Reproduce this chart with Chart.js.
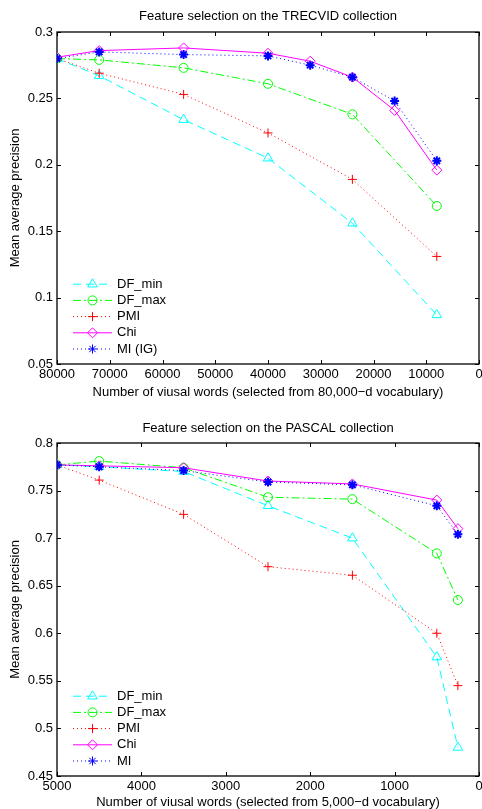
<!DOCTYPE html>
<html>
<head>
<meta charset="utf-8">
<script src="https://cdn.jsdelivr.net/npm/chart.js@4.4.1/dist/chart.umd.min.js"></script>
<style>
  html, body { margin: 0; padding: 0; background: #fff; overflow: hidden; }
  #wrap { position: relative; width: 482px; height: 809px; }
  canvas { position: absolute; left: 0; }
  #top { top: 0; }
  #bottom { top: 405px; }
</style>
</head>
<body>
<div id="wrap">
  <canvas id="top" width="482" height="405"></canvas>
  <canvas id="bottom" width="482" height="404"></canvas>
</div>
<script>
// TRECVID (80,000-d vocabulary)
const trecvidWords = [80000, 72000, 56000, 40000, 32000, 24000, 16000, 8000];
const trecvidDFmin = [0.280, 0.267, 0.234, 0.205, null, 0.156, null, 0.087];
const trecvidDFmax = [0.280, 0.279, 0.273, 0.261, null, 0.238, null, 0.169];
const trecvidPMI   = [0.280, 0.269, 0.253, 0.224, null, 0.189, null, 0.131];
const trecvidChi   = [0.281, 0.286, 0.288, 0.284, 0.278, 0.266, 0.241, 0.196];
const trecvidMI    = [0.280, 0.285, 0.283, 0.282, 0.275, 0.266, 0.248, 0.203];

// PASCAL (5,000-d vocabulary)
const pascalWords = [5000, 4500, 3500, 2500, 1500, 500, 250];
const pascalDFmin = [0.777, 0.775, 0.770, 0.734, 0.700, 0.575, 0.480];
const pascalDFmax = [0.777, 0.781, 0.774, 0.743, 0.741, 0.684, 0.635];
const pascalPMI   = [0.777, 0.761, 0.725, 0.670, 0.661, 0.600, 0.545];
const pascalChi   = [0.777, 0.776, 0.774, 0.760, 0.757, 0.740, 0.710];
const pascalMI    = [0.777, 0.775, 0.771, 0.759, 0.756, 0.734, 0.704];

const FONT = '"Liberation Sans", Arial, Helvetica, sans-serif';
Chart.defaults.font.family = FONT;
Chart.defaults.color = '#000';

function pts(xs, ys) {
  return xs.map((x, i) => ({ x: x, y: ys[i] }));
}

// one entry per series: look of the line and marker
function seriesStyles(labels) {
  return [
    { label: labels[0], borderColor: '#00ffff', borderDash: [8, 5], pointStyle: 'triangle', pointRadius: 5.5, order: 5 },
    { label: labels[1], borderColor: '#00ff00', borderDash: [8, 3, 2, 3], pointStyle: 'circle', pointRadius: 4.5, order: 4 },
    { label: labels[2], borderColor: '#ff0000', borderDash: [1, 3], pointStyle: 'cross', pointRadius: 4.5, order: 3 },
    { label: labels[3], borderColor: '#ff00ff', borderDash: [], pointStyle: 'rectRot', pointRadius: 5, order: 2 },
    { label: labels[4], borderColor: '#0000ff', borderDash: [1, 3], pointStyle: 'star', pointRadius: 4.5, order: 1 }
  ];
}

// box round the plot with small inward ticks on all four sides
const frame = {
  id: 'frame',
  beforeDatasetsDraw(chart) {
    const { ctx, chartArea: a, scales } = chart;
    ctx.save();
    ctx.strokeStyle = '#000';
    ctx.lineWidth = 1.3;
    ctx.strokeRect(a.left, a.top, a.right - a.left, a.bottom - a.top);
    ctx.lineWidth = 1;
    ctx.beginPath();
    scales.x.ticks.forEach(t => {
      const px = Math.round(scales.x.getPixelForValue(t.value)) + 0.5;
      ctx.moveTo(px, a.bottom); ctx.lineTo(px, a.bottom - 4);
      ctx.moveTo(px, a.top); ctx.lineTo(px, a.top + 4);
    });
    scales.y.ticks.forEach(t => {
      const py = Math.round(scales.y.getPixelForValue(t.value)) + 0.5;
      ctx.moveTo(a.left, py); ctx.lineTo(a.left + 4, py);
      ctx.moveTo(a.right, py); ctx.lineTo(a.right - 4, py);
    });
    ctx.stroke();
    ctx.restore();
  }
};

// matlab style legend inside the lower left corner, no box
const insideLegend = {
  id: 'insideLegend',
  afterDatasetsDraw(chart) {
    const { ctx, chartArea: a } = chart;
    const sets = chart.data.datasets;
    const x0 = a.left + 16, x1 = x0 + 39;
    const rowH = 16.2;
    const yLast = a.bottom - 15;
    ctx.save();
    ctx.font = '13px ' + FONT;
    ctx.textBaseline = 'middle';
    sets.forEach((ds, i) => {
      const y = yLast - (sets.length - 1 - i) * rowH;
      ctx.strokeStyle = ds.borderColor;
      ctx.lineWidth = 1;
      ctx.setLineDash(ds.borderDash);
      ctx.beginPath();
      ctx.moveTo(x0, y); ctx.lineTo(x1, y);
      ctx.stroke();
      ctx.setLineDash([]);
      ctx.fillStyle = 'rgba(0,0,0,0)';
      Chart.helpers.drawPoint(ctx, {
        pointStyle: ds.pointStyle, radius: ds.pointRadius,
        borderWidth: ds.pointBorderWidth, rotation: 0
      }, (x0 + x1) / 2, y);
      ctx.fillStyle = '#000';
      ctx.fillText(ds.label, x1 + 5, y);
    });
    ctx.restore();
  }
};

function makeChart(id, title, xLabel, words, values, labels, xMax, xStep, yMin, yMax, titlePad, xTitleBottom, xHeight) {
  const styles = seriesStyles(labels);
  const datasets = styles.map((s, i) => ({
    label: s.label,
    data: pts(words, values[i]),
    borderColor: s.borderColor,
    borderWidth: 1,
    borderDash: s.borderDash,
    pointStyle: s.pointStyle,
    pointRadius: s.pointRadius,
    pointBorderColor: s.borderColor,
    pointBackgroundColor: 'rgba(0,0,0,0)',
    pointBorderWidth: s.pointStyle === 'star' ? 2 : 1,
    spanGaps: true,
    tension: 0,
    order: s.order
  }));

  return new Chart(document.getElementById(id), {
    type: 'line',
    data: { datasets: datasets },
    options: {
      responsive: false,
      animation: false,
      events: [],
      layout: { autoPadding: false, padding: { left: 0, right: 3, top: 0, bottom: 0 } },
      plugins: {
        legend: { display: false },
        tooltip: { enabled: false },
        title: {
          display: true,
          fullSize: false,
          text: title,
          color: '#000',
          font: { size: 13, weight: 'normal', lineHeight: 1 },
          padding: titlePad
        }
      },
      scales: {
        x: {
          type: 'linear',
          reverse: true,
          min: 0,
          max: xMax,
          grid: { display: false, drawTicks: false },
          border: { display: false },
          ticks: {
            stepSize: xStep,
            autoSkip: false,
            maxRotation: 0,
            padding: 3,
            font: { size: 13 },
            callback: v => String(v)
          },
          title: {
            display: true,
            text: xLabel,
            font: { size: 13, lineHeight: 1 },
            padding: { top: 0, bottom: xTitleBottom }
          },
          afterFit: s => {
            s.height = xHeight;
            s.paddingLeft = 0;
            s.paddingRight = 0;
          }
        },
        y: {
          min: yMin,
          max: yMax,
          grid: { display: false, drawTicks: false },
          border: { display: false },
          ticks: {
            stepSize: 0.05,
            padding: 4,
            font: { size: 13 },
            callback: v => String(+v.toFixed(2))
          },
          title: {
            display: true,
            text: 'Mean average precision',
            font: { size: 13, lineHeight: 1 },
            padding: { top: 8.5, bottom: 0 }
          },
          afterFit: s => {
            s.width = 57;
            s.paddingTop = 0;
            s.paddingBottom = 0;
          }
        }
      }
    },
    plugins: [frame, insideLegend]
  });
}

makeChart('top', 'Feature selection on the TRECVID collection',
  'Number of viusal words (selected from 80,000\u2212d vocabulary)',
  trecvidWords,
  [trecvidDFmin, trecvidDFmax, trecvidPMI, trecvidChi, trecvidMI],
  ['DF_min', 'DF_max', 'PMI', 'Chi', 'MI (IG)'],
  80000, 10000, 0.05, 0.3,
  { top: 9.5, bottom: 9.5 }, 6.5, 41);

makeChart('bottom', 'Feature selection on the PASCAL collection',
  'Number of viusal words (selected from 5,000\u2212d vocabulary)',
  pascalWords,
  [pascalDFmin, pascalDFmax, pascalPMI, pascalChi, pascalMI],
  ['DF_min', 'DF_max', 'PMI', 'Chi', 'MI'],
  5000, 1000, 0.45, 0.8,
  { top: 16.5, bottom: 8.5 }, 0, 33);
</script>
</body>
</html>
